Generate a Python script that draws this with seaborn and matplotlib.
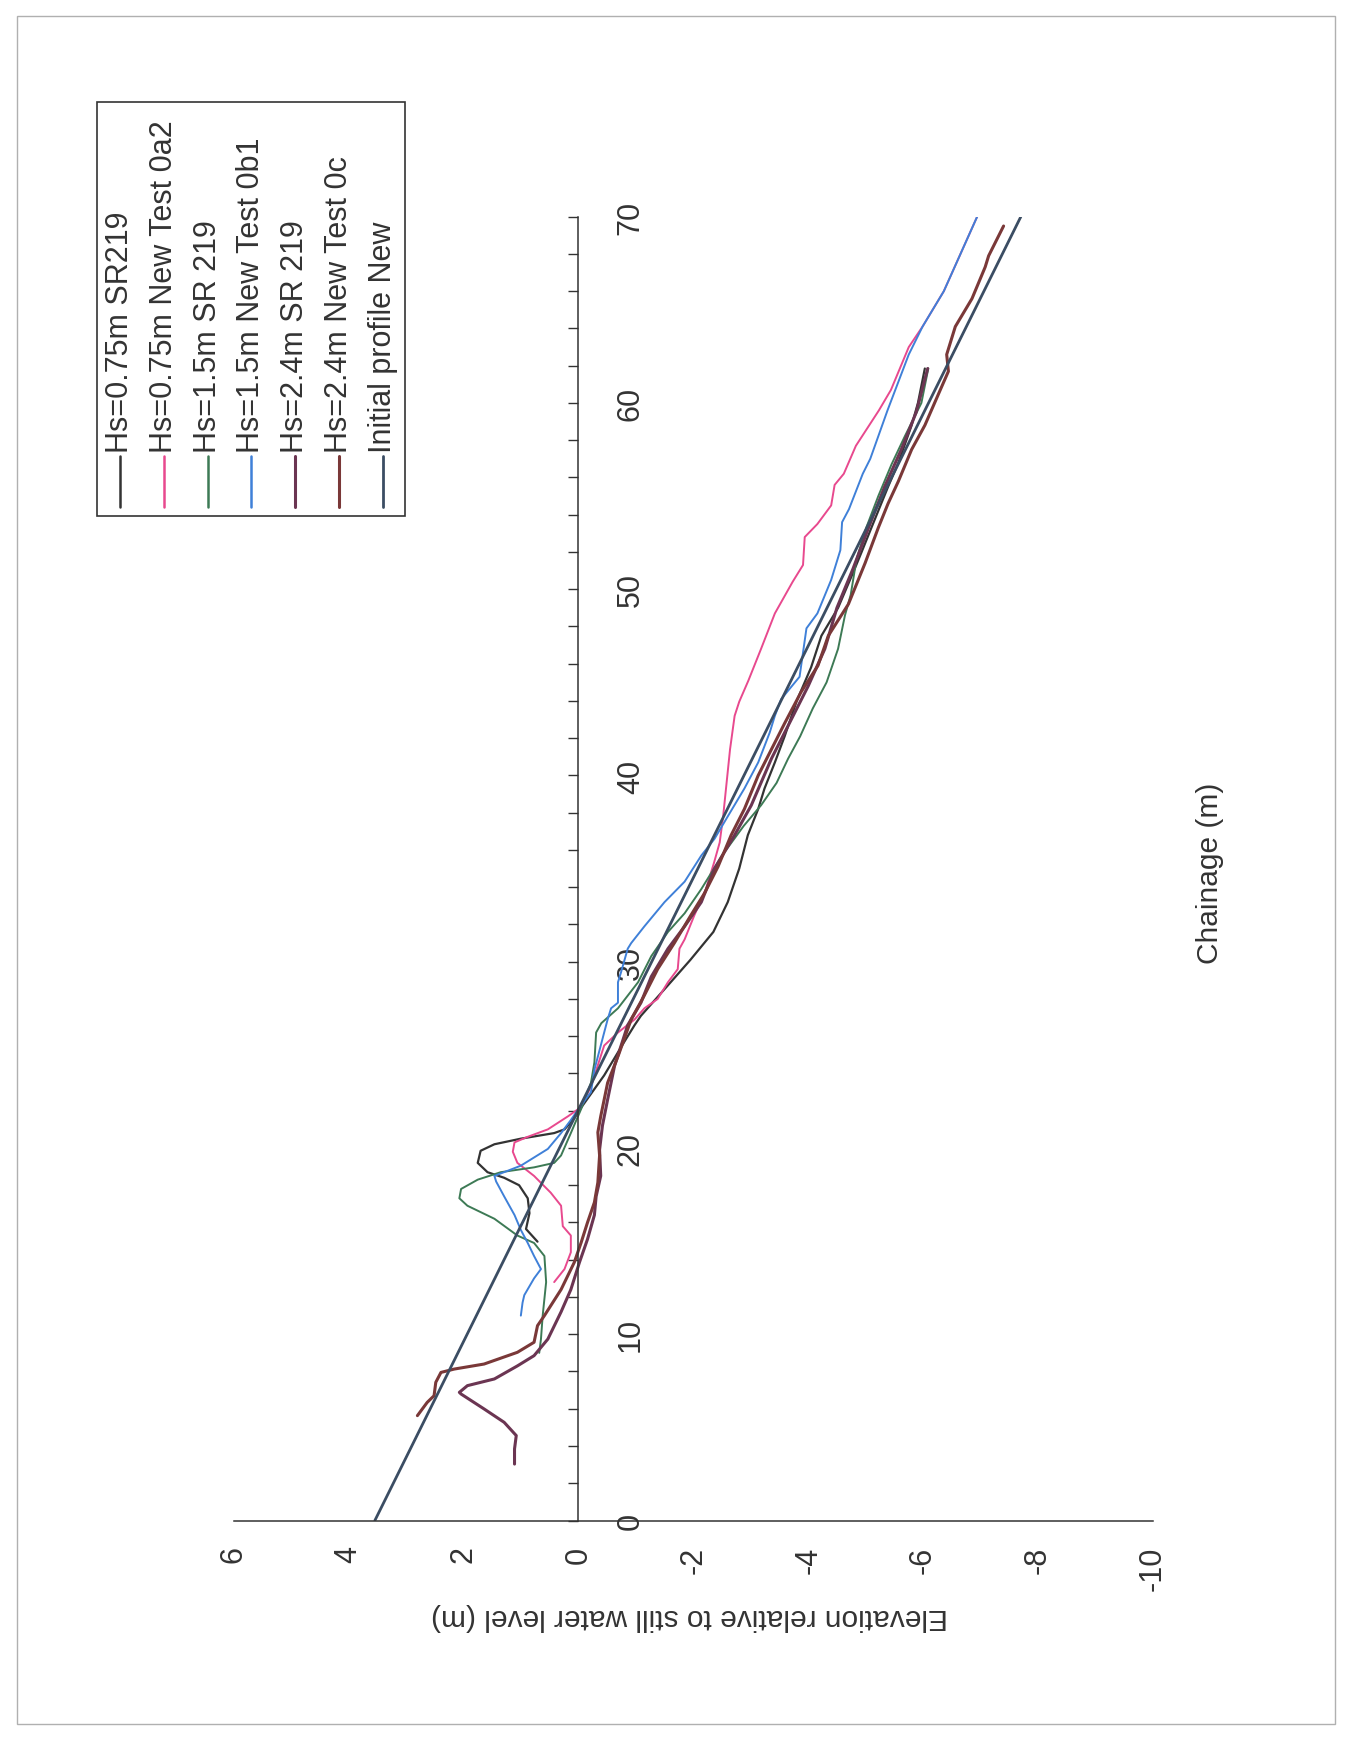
import numpy as np
import pandas as pd
import matplotlib
matplotlib.use("Agg")
import matplotlib.pyplot as plt
from matplotlib.ticker import MultipleLocator, FixedLocator
from matplotlib.lines import Line2D
from matplotlib.patches import Rectangle
import seaborn as sns

sns.set_style("white")
plt.rcParams['font.family'] = ['Liberation Sans', 'DejaVu Sans']
plt.rcParams['axes.unicode_minus'] = False

# ---------------- data (chainage m, elevation m) ----------------
series_names = ["Hs=0.75m SR219", "Hs=0.75m New Test 0a2", "Hs=1.5m SR 219",
                "Hs=1.5m New Test 0b1", "Hs=2.4m SR 219", "Hs=2.4m New Test 0c",
                "Initial profile New"]
series_colors = ["#333333", "#e8498e", "#3d7a55", "#3f80d8", "#6b3552", "#7a3838", "#3b4d63"]
series_widths = [1.6, 1.4, 1.4, 1.4, 2.2, 2.2, 2.0]

ch_a = [14.97, 15.65, 16.5, 17.3, 18.0, 18.4, 18.7, 19.2, 19.85, 20.2, 20.5, 20.8, 21.0, 21.6, 22.3,
        23.9, 25.7, 26.6, 27.1, 28.7, 30.1, 31.6, 33.2, 35.0, 36.8, 38.2, 39.3, 40.7, 42.1, 44.0,
        45.8, 47.5, 49.0, 51.1, 52.0, 53.3, 55.5, 56.8, 58.8, 60.0, 61.85]
el_a = [0.71, 0.91, 0.85, 0.88, 1.03, 1.29, 1.58, 1.75, 1.70, 1.46, 1.0, 0.42, 0.24, 0.07, -0.08,
        -0.45, -0.80, -0.98, -1.09, -1.55, -1.95, -2.35, -2.60, -2.80, -2.95, -3.13, -3.24, -3.42,
        -3.59, -3.80, -4.05, -4.23, -4.52, -4.81, -4.93, -5.10, -5.39, -5.57, -5.80, -5.91, -6.03]

ch_b = [12.8, 13.5, 14.4, 15.3, 15.8, 16.9, 17.6, 18.5, 19.2, 19.8, 20.3, 20.6, 21.0, 21.7, 22.2,
        23.3, 25.5, 26.2, 26.9, 27.5, 28.0, 28.9, 29.6, 30.7, 31.2, 32.5, 33.9, 35.3, 36.4, 37.8,
        39.6, 41.4, 43.2, 43.96, 45.1, 46.8, 48.7, 50.4, 51.3, 52.8, 53.5, 54.5, 55.6, 56.2, 57.7,
        59.6, 60.7, 63.0, 64.1, 66.0, 70.0]
el_b = [0.42, 0.24, 0.13, 0.13, 0.27, 0.30, 0.48, 0.77, 1.06, 1.14, 1.11, 0.88, 0.53, 0.18, -0.05,
        -0.22, -0.45, -0.69, -0.98, -1.15, -1.38, -1.56, -1.73, -1.76, -1.85, -2.02, -2.22, -2.36,
        -2.46, -2.52, -2.58, -2.64, -2.72, -2.80, -2.96, -3.18, -3.42, -3.73, -3.91, -3.94, -4.16,
        -4.40, -4.46, -4.62, -4.83, -5.23, -5.44, -5.75, -5.99, -6.36, -6.94]

ch_c = [9.0, 9.74, 11.0, 12.8, 14.2, 14.9, 15.3, 16.2, 16.9, 17.3, 17.8, 18.3, 18.7, 18.96, 19.2,
        19.6, 20.8, 22.1, 23.5, 24.6, 26.2, 26.7, 27.5, 28.9, 30.3, 31.6, 32.6, 33.9, 35.7, 37.3,
        38.4, 39.6, 40.9, 42.1, 43.6, 45.0, 46.8, 48.6, 49.7, 51.6, 53.3, 55.0, 56.7, 58.2, 60.0, 61.85]
el_c = [0.68, 0.65, 0.62, 0.56, 0.59, 0.77, 1.06, 1.46, 1.93, 2.07, 2.04, 1.75, 1.35, 0.77, 0.42,
        0.30, 0.13, -0.05, -0.22, -0.28, -0.31, -0.40, -0.69, -1.04, -1.27, -1.56, -1.85, -2.14,
        -2.50, -2.88, -3.18, -3.45, -3.65, -3.86, -4.08, -4.32, -4.52, -4.64, -4.74, -4.84, -5.01,
        -5.22, -5.45, -5.68, -5.97, -6.09]

ch_d = [11.0, 11.7, 12.1, 13.0, 13.5, 14.2, 14.9, 15.6, 16.4, 17.4, 18.2, 18.5, 19.05, 19.95, 20.8,
        21.5, 22.3, 23.0, 24.2, 26.2, 26.9, 27.5, 27.8, 28.9, 29.4, 30.7, 31.0, 31.9, 33.2, 34.3,
        35.7, 36.6, 37.8, 39.3, 40.7, 42.3, 43.2, 44.1, 45.3, 47.9, 48.7, 50.5, 52.1, 53.6, 54.3,
        56.2, 57.0, 59.6, 62.6, 64.1, 66.0, 70.0]
el_d = [1.0, 0.97, 0.94, 0.77, 0.65, 0.77, 0.88, 1.0, 1.11, 1.29, 1.43, 1.46, 1.0, 0.53, 0.30,
        0.13, -0.05, -0.22, -0.28, -0.45, -0.51, -0.57, -0.69, -0.69, -0.74, -0.86, -0.92, -1.15,
        -1.50, -1.85, -2.14, -2.37, -2.60, -2.89, -3.13, -3.33, -3.42, -3.53, -3.85, -3.97, -4.16,
        -4.40, -4.56, -4.59, -4.71, -4.95, -5.08, -5.38, -5.75, -5.99, -6.36, -6.94]

ch_e = [3.03, 3.84, 4.56, 5.27, 5.99, 6.79, 6.88, 7.24, 7.6, 8.3, 8.85, 9.74, 11.2, 12.4, 13.86,
        15.1, 16.4, 17.4, 18.5, 19.9, 21.2, 22.6, 24.4, 26.6, 27.8, 29.2, 30.7, 31.9, 33.2, 35.0,
        36.8, 38.4, 40.9, 42.3, 44.8, 46.8, 49.0, 51.1, 53.3, 55.5, 57.5, 59.5, 61.85]
el_e = [1.11, 1.11, 1.08, 1.29, 1.64, 2.04, 2.07, 1.93, 1.46, 1.06, 0.77, 0.53, 0.30, 0.13, -0.02,
        -0.16, -0.28, -0.31, -0.39, -0.37, -0.42, -0.51, -0.63, -0.86, -1.09, -1.27, -1.56, -1.85,
        -2.14, -2.37, -2.72, -3.01, -3.36, -3.59, -4.0, -4.29, -4.50, -4.78, -5.05, -5.33, -5.62,
        -5.88, -6.08]

ch_f = [5.63, 6.34, 6.70, 7.42, 7.95, 8.13, 8.40, 9.03, 9.57, 10.46, 11.0, 12.4, 13.86, 14.93, 16.0,
        17.08, 18.15, 19.6, 20.84, 21.7, 23.5, 25.0, 26.9, 28.2, 29.6, 31.0, 32.5, 33.7, 35.1, 36.8,
        38.2, 40.0, 41.4, 42.8, 44.5, 45.9, 47.5, 49.2, 51.4, 53.3, 54.6, 55.8, 57.5, 58.8, 60.5,
        61.7, 62.6, 64.1, 65.6, 67.3, 67.9, 69.5]
el_f = [2.80, 2.63, 2.51, 2.48, 2.39, 2.16, 1.64, 1.06, 0.77, 0.71, 0.59, 0.30, 0.07, -0.05, -0.16,
        -0.28, -0.34, -0.37, -0.34, -0.39, -0.51, -0.70, -0.92, -1.15, -1.38, -1.67, -1.96, -2.20,
        -2.43, -2.66, -2.89, -3.13, -3.36, -3.59, -3.88, -4.17, -4.35, -4.70, -4.99, -5.22, -5.39,
        -5.57, -5.80, -6.03, -6.27, -6.44, -6.41, -6.56, -6.85, -7.08, -7.14, -7.40]

ch_g = [0.0, 70.0]
el_g = [3.54, -7.70]

elev_ticks = [6, 4, 2, 0, -2, -4, -6, -8, -10]
chain_ticks = [0, 10, 20, 30, 40, 50, 60, 70]

all_ch = [ch_a, ch_b, ch_c, ch_d, ch_e, ch_f, ch_g]
all_el = [el_a, el_b, el_c, el_d, el_e, el_f, el_g]

# ---------------- figure ----------------
W, H = 1353, 1749
fig = plt.figure(figsize=(W / 100, H / 100), dpi=100)
fig.patch.set_facecolor("white")

ax_l, ax_r, ax_t, ax_b = 233.5, 1153.0, 217.7, 1521.5
ax = fig.add_axes([ax_l / W, 1 - ax_b / H, (ax_r - ax_l) / W, (ax_b - ax_t) / H])
ax.set_facecolor("none")

for name, c, lw, chs, els in zip(series_names, series_colors, series_widths, all_ch, all_el):
    df = pd.DataFrame({"elev": els, "chain": chs})
    sns.lineplot(data=df, x="elev", y="chain", sort=False, estimator=None,
                 color=c, linewidth=lw, ax=ax)

ax.set_xlim(6, -10)
ax.set_ylim(0, 70)

# spines
for s in ["left", "top"]:
    ax.spines[s].set_visible(False)
ax.spines["right"].set_position(("data", 0))
for s in ["right", "bottom"]:
    ax.spines[s].set_color("#333333")
    ax.spines[s].set_linewidth(1.1)

ax.xaxis.set_major_locator(FixedLocator(elev_ticks))
ax.yaxis.tick_right()
ax.yaxis.set_major_locator(FixedLocator(chain_ticks))
ax.yaxis.set_minor_locator(MultipleLocator(2))

ax.tick_params(axis="x", direction="in", length=7, width=1, color="#333333",
               labelsize=22, pad=18, labelrotation=90, labelcolor="#333333")
ax.tick_params(axis="y", which="both", direction="in", length=7, width=1, color="#333333",
               labelsize=22, pad=27, labelrotation=90, labelcolor="#333333",
               left=False, right=True, labelleft=False, labelright=True)
ax.tick_params(axis="y", which="minor", labelright=False)
plt.setp(ax.get_yticklabels(), va="center")

ax.set_xlabel("Elevation relative to still water level (m)", fontsize=21.5, rotation=180,
              color="#333333", ha="center", va="center")
ax.xaxis.set_label_coords((690 - ax_l) / (ax_r - ax_l), (ax_b - 1617) / (ax_b - ax_t))
ax.yaxis.set_label_position("right")
ax.set_ylabel("Chainage (m)", fontsize=21.5, rotation=90, color="#333333",
              ha="center", va="center")
ax.yaxis.set_label_coords((1210 - ax_l) / (ax_r - ax_l), (ax_b - 873) / (ax_b - ax_t))
ax.grid(False)

# ---------------- legend (rotated, drawn manually) ----------------
lx0, lx1, ly0, ly1 = 97, 405, 103, 517
fig.patches.append(Rectangle((lx0 / W, 1 - ly1 / H), (lx1 - lx0) / W, (ly1 - ly0) / H,
                             transform=fig.transFigure, fill=False, edgecolor="#333333",
                             linewidth=1.2))
entry_x0, entry_dx = 120, 43.8
for i, (name, c, lw) in enumerate(zip(series_names, series_colors, series_widths)):
    x = entry_x0 + i * entry_dx
    fig.lines.append(Line2D([x / W, x / W], [1 - 508 / H, 1 - 457 / H], transform=fig.transFigure,
                            color=c, linewidth=max(lw, 1.8)))
    fig.text(x / W, 1 - 453 / H, name, rotation=90, ha="center", va="bottom",
             fontsize=22, color="#333333")

# page frame
fig.patches.append(Rectangle((17 / W, 1 - 1725 / H), (1335 - 17) / W, (1725 - 17) / H,
                             transform=fig.transFigure, fill=False, edgecolor="#b0b0b0",
                             linewidth=1.0))

fig.savefig("out.png", dpi=100, facecolor="white")
